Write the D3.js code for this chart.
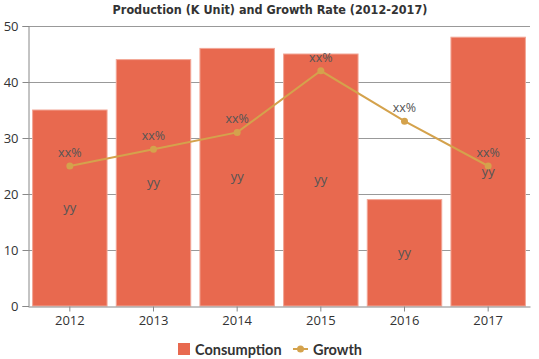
<!DOCTYPE html>
<html><head><meta charset="utf-8">
<script src="https://cdn.jsdelivr.net/npm/d3@7"></script>
<style>
body{margin:0;background:#fff;}
svg{display:block;}
</style></head>
<body>
<svg id="c" width="539" height="359"></svg>
<script>
const categories = ["2012","2013","2014","2015","2016","2017"];
const consumption = [35, 44, 46, 45, 19, 48];
const growth = [25, 28, 31, 42, 33, 25];
const growthLabels = ["xx%","xx%","xx%","xx%","xx%","xx%"];
const barLabels = ["yy","yy","yy","yy","yy","yy"];
const yTicks = [0,10,20,30,40,50];

const svg = d3.select("#c");
const m = {l:28, r:9, t:26, b:53};
const W = 539, H = 359;
const x = d3.scaleBand().domain(categories).range([m.l, W-m.r]).paddingInner(0.11).paddingOuter(0.055);
const xc = d3.scaleBand().domain(categories).range([m.l, W-m.r]);
const y = d3.scaleLinear().domain([0,50]).range([H-m.b, m.t]);

const barColor = "#E8694F", lineColor = "#D4A24C";

// grid
svg.append("g").selectAll("line").data(yTicks.filter(d=>d>0)).join("line")
  .attr("x1", m.l).attr("x2", W-m.r)
  .attr("y1", d=>y(d)+0.5).attr("y2", d=>y(d)+0.5)
  .attr("stroke", "#999").attr("stroke-width", 1);

// y axis
const ya = svg.append("g").attr("transform", `translate(${m.l+0.5},0)`)
  .call(d3.axisLeft(y).tickValues(yTicks).tickSize(6).tickPadding(4));
ya.select(".domain").attr("stroke","#888");
ya.selectAll(".tick line").attr("stroke","#888");
ya.selectAll("text").attr("fill","#333").style("font-family","'Open Sans', sans-serif").style("font-size","13px");

// bars
svg.append("g").selectAll("rect").data(categories).join("rect")
  .attr("x", d=>x(d)).attr("width", x.bandwidth())
  .attr("y", (d,i)=>y(consumption[i])).attr("height", (d,i)=>y(0)-y(consumption[i]))
  .attr("fill", barColor).attr("stroke", "#F2A696").attr("stroke-width", 1);

// x axis
const xa = svg.append("g").attr("transform", `translate(0,${y(0)+0.5})`)
  .call(d3.axisBottom(xc).tickSize(5).tickPadding(4).tickSizeOuter(0));
xa.select(".domain").attr("stroke","#888");
xa.selectAll(".tick line").attr("stroke","#888");
xa.selectAll("text").attr("fill","#333").style("font-family","'Open Sans', sans-serif").style("font-size","13px");

// bar labels
svg.append("g").selectAll("text").data(categories).join("text")
  .attr("x", d=>x(d)+x.bandwidth()/2)
  .attr("y", (d,i)=>y(consumption[i]/2)+4)
  .attr("text-anchor","middle").attr("fill","#555")
  .style("font-family","'Open Sans', sans-serif").style("font-size","13px")
  .text((d,i)=>barLabels[i]);

// line
const cx = d=>xc(d)+xc.bandwidth()/2;
svg.append("path").datum(categories)
  .attr("d", d3.line().x(d=>cx(d)).y((d,i)=>y(growth[i])))
  .attr("fill","none").attr("stroke", lineColor).attr("stroke-width", 2);
svg.append("g").selectAll("circle").data(categories).join("circle")
  .attr("cx", cx).attr("cy", (d,i)=>y(growth[i])).attr("r", 3.5)
  .attr("fill", lineColor);
svg.append("g").selectAll("text").data(categories).join("text")
  .attr("x", cx).attr("y", (d,i)=>y(growth[i])-9)
  .attr("text-anchor","middle").attr("fill","#555")
  .style("font-family","'Open Sans', sans-serif").style("font-size","12.5px")
  .text((d,i)=>growthLabels[i]);

// title
svg.append("text").attr("x", 270).attr("y", 14).attr("text-anchor","middle")
  .attr("fill","#333")
  .style("font-family","'DejaVu Sans Condensed','DejaVu Sans',sans-serif")
  .style("font-stretch","condensed")
  .style("font-weight","bold").style("font-size","12.5px")
  .text("Production (K Unit) and Growth Rate (2012-2017)");

// legend
const lg = svg.append("g").attr("transform","translate(178,342)");
lg.append("rect").attr("x",0).attr("y",1).attr("width",12).attr("height",12).attr("fill",barColor);
lg.append("text").attr("x",17).attr("y",12.5).attr("fill","#333")
  .style("font-family","Lato, sans-serif").style("font-weight","bold").style("font-size","14.5px")
  .text("Consumption");
lg.append("line").attr("x1",115).attr("x2",130).attr("y1",7).attr("y2",7).attr("stroke",lineColor).attr("stroke-width",2);
lg.append("circle").attr("cx",122.5).attr("cy",7).attr("r",3.5).attr("fill",lineColor);
lg.append("text").attr("x",135).attr("y",12.5).attr("fill","#333")
  .style("font-family","Lato, sans-serif").style("font-weight","bold").style("font-size","14.5px")
  .text("Growth");
</script>
</body></html>
